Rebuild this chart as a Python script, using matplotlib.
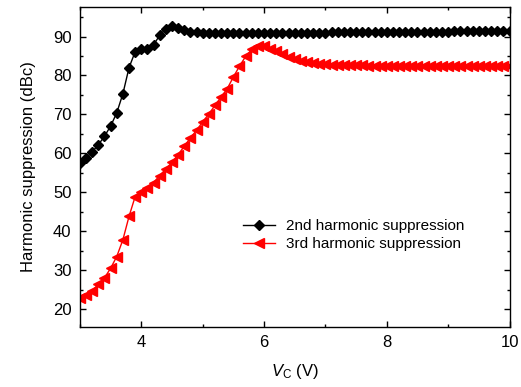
"""Harmonic suppression versus control voltage."""

import matplotlib.pyplot as plt
import numpy as np
from matplotlib.ticker import MultipleLocator

plt.rcParams["font.family"] = ["Liberation Sans", "DejaVu Sans"]
plt.rcParams["font.size"] = 11
plt.rcParams["mathtext.fontset"] = "custom"
plt.rcParams["mathtext.rm"] = "Liberation Sans"
plt.rcParams["mathtext.it"] = "Liberation Sans:italic"

# control voltage, 0.1 V steps from 3 V to 10 V
vc = np.round(np.arange(3.0, 10.0001, 0.1), 1)

second_harmonic = [
    57.5, 58.8, 60.4, 62.2, 64.4, 67.0, 70.4, 75.3, 82.0, 86.1,
    86.7, 86.8, 87.9, 90.3, 92.0, 92.6, 92.3, 91.6, 91.2, 91.1,
    91.0, 91.0, 91.0, 91.0, 91.0, 91.0, 91.0, 91.0, 91.0, 91.0,
    91.0, 91.0, 91.0, 91.0, 91.0, 91.0, 91.0, 91.0, 91.0, 91.0,
    91.0, 91.1, 91.1, 91.1, 91.1, 91.1, 91.1, 91.1, 91.1, 91.1,
    91.1, 91.1, 91.1, 91.2, 91.2, 91.2, 91.2, 91.2, 91.2, 91.2,
    91.2, 91.3, 91.3, 91.3, 91.3, 91.3, 91.3, 91.3, 91.4, 91.4,
    91.4,
]

third_harmonic = [
    22.8, 23.7, 24.7, 26.4, 28.0, 30.5, 33.5, 37.8, 43.8, 48.9,
    50.0, 51.2, 52.5, 54.3, 56.0, 57.7, 59.7, 61.8, 64.0, 65.9,
    68.1, 70.1, 72.3, 74.5, 76.6, 79.6, 82.4, 84.9, 86.7, 87.7,
    87.5, 86.8, 86.2, 85.5, 84.8, 84.3, 83.8, 83.5, 83.2, 83.0,
    82.9, 82.8, 82.7, 82.7, 82.6, 82.6, 82.6, 82.5, 82.5, 82.5,
    82.5, 82.5, 82.5, 82.5, 82.5, 82.5, 82.5, 82.5, 82.5, 82.5,
    82.5, 82.5, 82.5, 82.5, 82.5, 82.5, 82.5, 82.5, 82.5, 82.5,
    82.5,
]

fig = plt.figure(figsize=(5.21, 3.87), dpi=100)
ax = fig.add_axes([0.1534, 0.156, 0.8246, 0.826])

ax.plot(vc, second_harmonic, color="black", marker="D", markersize=5,
        linewidth=1, label="2nd harmonic suppression")
ax.plot(vc, third_harmonic, color="red", marker="<", markersize=6.5,
        linewidth=1, label="3rd harmonic suppression")

ax.set_xlim(3, 10)
ax.set_ylim(15.5, 97.6)
ax.xaxis.set_major_locator(MultipleLocator(2))
ax.xaxis.set_minor_locator(MultipleLocator(1))
ax.yaxis.set_major_locator(MultipleLocator(10))
ax.yaxis.set_minor_locator(MultipleLocator(5))
ax.tick_params(which="both", direction="in", top=True, right=True, width=1)
ax.tick_params(which="major", length=4.5)
ax.tick_params(which="minor", length=2.5)
ax.tick_params(axis="both", which="major", labelsize=12, pad=6)
for spine in ax.spines.values():
    spine.set_linewidth(1)

ax.set_xlabel(r"$V_{\mathrm{C}}$ (V)", fontsize=12, labelpad=9)
ax.set_ylabel("Harmonic suppression (dBc)", fontsize=12, labelpad=12)

ax.legend(loc="center left", bbox_to_anchor=(0.379, 0.286), frameon=False,
          borderpad=0, borderaxespad=0, handlelength=2.1, handletextpad=0.7,
          labelspacing=0.25, fontsize=11)

fig.savefig("out.png", dpi=100)
plt.close(fig)
